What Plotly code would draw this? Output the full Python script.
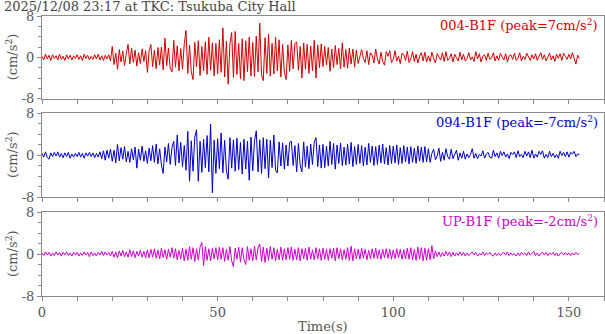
import plotly.graph_objects as go

DT = 0.5  # sample interval (s)

title_text = "2025/12/08 23:17 at TKC: Tsukuba City Hall"
names = ["004-B1F", "094-B1F", "UP-B1F"]
peaks = ["7", "-7", "-2"]
colors = ["#d40000", "#0000cc", "#cc00cc"]
x_ticks = [0, 50, 100, 150]
y_ticks = [-8, 0, 8]

acc_004 = [
    0.2,-0.5,0.6,-0.3,0.4,-0.6,0.5,-0.2,0.3,-0.5,0.6,-0.4,0.2,-0.6,0.5,-0.3,0.4,-0.5,0.3,-0.2,
    0.5,-0.4,0.3,-0.6,0.6,-0.2,0.4,-0.5,0.2,-0.4,0.5,-0.3,0.6,-0.5,0.3,-0.6,0.4,-0.3,0.5,-0.7,
    2.1,-1.4,0.8,-2.3,1.5,-0.9,1.2,-1.6,0.7,2.5,-1.3,1.8,-1.0,1.4,-1.7,0.9,-1.2,1.6,-0.8,1.3,
    -2.9,1.2,2.5,-1.8,1.4,-2.2,1.9,-1.5,2.0,-2.4,3.7,-1.6,1.8,-2.1,-2.8,3.3,-1.9,2.2,-2.6,1.7,
    -2.3,2.6,5.2,-3.1,2.4,-2.8,-4.3,2.9,-1.8,3.2,-3.5,2.1,-2.6,3.0,-3.3,3.9,-2.5,2.8,-3.6,2.7,
    -3.2,3.4,-2.9,5.7,-3.8,3.1,-5.2,2.6,4.8,-3.9,5.0,-3.3,2.7,-4.1,3.6,-4.5,3.2,-2.8,3.9,-3.6,
    2.9,-3.7,4.1,-2.8,6.6,-3.4,-4.5,3.8,-3.1,4.5,-3.6,2.7,-3.2,3.9,-2.6,3.4,-3.8,2.5,-2.9,-4.3,
    2.4,-2.7,3.3,-2.2,2.6,3.0,-2.5,2.1,-4.0,2.8,-2.3,2.5,-3.1,2.2,-2.6,3.3,-4.0,2.4,-2.0,2.6,
    -1.8,2.1,-1.5,1.9,-2.7,1.6,-2.0,2.3,-1.4,1.7,-2.2,2.8,-1.9,1.5,-2.1,1.8,-1.3,1.6,-1.9,1.4,
    -1.2,0.3,1.5,-0.2,-1.0,1.3,-1.4,0.9,0.4,-1.1,1.6,-0.3,-1.3,1.0,-0.8,-1.5,1.1,0.2,1.3,-1.0,
    -0.4,1.3,-0.7,0.2,-1.2,0.8,0.5,-0.6,1.2,-1.0,-0.3,1.1,-0.8,0.6,-1.1,0.2,0.9,-0.7,1.0,-0.9,
    0.3,-0.8,1.0,-0.2,-1.1,0.7,0.2,-0.5,0.9,-0.8,1.1,-0.6,-0.2,0.7,-0.9,0.6,-0.1,-0.7,1.0,-0.5,
    0.6,-0.7,-0.2,0.9,-0.5,0.1,-0.8,1.1,-0.3,0.7,-0.9,0.2,0.5,-0.6,0.8,-0.4,-0.1,0.9,-0.7,0.3,
    -0.6,0.8,0.1,-0.5,0.7,-0.9,0.3,0.5,-0.4,0.8,-0.6,-0.2,0.9,-0.7,0.2,-0.4,0.8,-0.1,-0.6,0.5,
    -0.3,0.7,-0.6,0.2,0.9,-0.4,0.5,-0.7,0.1,0.8,-0.5,0.3,-0.8,0.6,-0.2,0.7,-0.6,0.8,0.2,-0.4,
    0.6,-0.3,0.9,-0.2,-1.3,0.4,-0.2,
]

acc_094 = [
    0.3,-0.4,0.6,-0.5,-0.8,0.4,-0.3,0.5,-0.2,0.6,-0.4,0.3,-0.5,0.4,-0.3,0.5,-0.6,0.2,-0.4,0.3,
    -0.3,0.5,-0.4,0.3,-0.6,0.4,-0.2,0.5,-0.3,0.4,-0.5,0.3,-0.4,0.6,-0.7,0.8,-1.0,0.9,-0.6,1.1,
    -1.2,0.9,-1.5,2.0,-1.1,1.4,-0.8,1.6,-1.3,0.7,-1.4,1.2,-0.9,1.5,-2.5,1.1,-1.0,1.7,-1.2,0.8,
    -1.6,1.3,-1.1,1.8,-1.4,2.1,-1.7,1.2,-1.9,-3.5,1.5,-1.3,2.2,-1.8,1.4,2.6,-2.0,3.8,-1.5,2.4,
    -2.2,1.8,-2.9,4.5,-5.0,2.7,-3.1,3.4,4.8,-5.0,2.6,-3.3,3.0,-2.4,3.7,-3.2,5.9,-7.2,2.8,-3.5,
    3.1,-2.6,4.2,-3.4,2.8,-3.0,-4.6,3.3,-2.5,2.9,-3.1,3.2,-2.8,2.4,-3.6,3.0,-2.7,2.6,-4.8,3.4,
    -3.0,2.7,4.6,-3.2,2.9,-3.5,3.3,-2.6,3.0,-4.4,2.8,-2.4,3.8,-2.9,-3.4,2.5,-2.1,2.3,-2.7,1.9,
    -2.1,2.4,2.6,-2.0,1.8,-3.2,2.2,-1.9,-3.2,2.5,-2.3,1.7,-2.6,2.1,-1.8,2.4,3.3,-2.2,1.9,-2.5,
    2.0,-2.4,1.7,-2.1,2.6,-1.8,2.2,-2.7,1.9,-1.6,2.3,-2.0,1.5,-1.9,2.1,-1.7,2.4,-2.2,1.6,-1.8,
    2.0,-1.6,1.8,-2.1,1.5,-1.9,2.2,-1.4,1.7,-2.0,1.6,-1.8,1.9,-1.5,2.1,-1.7,1.4,-1.9,1.8,-1.6,
    1.7,-1.5,1.9,-1.8,1.4,-1.6,1.8,-1.3,1.5,-1.7,1.6,-1.4,1.3,-1.6,1.7,-1.2,1.5,-1.4,1.6,-1.3,
    1.2,-1.4,0.3,1.1,-0.9,-0.2,1.3,-1.2,0.5,-1.0,1.2,-0.3,-0.8,1.1,-0.7,0.2,0.9,-1.0,0.4,-0.6,
    0.7,-0.8,0.2,-0.5,0.1,1.2,-0.6,0.3,-0.7,0.1,-0.2,0.8,-0.6,0.2,0.5,-0.4,-0.6,0.9,-0.3,0.4,
    -0.6,0.7,-0.1,0.6,-0.4,0.2,-0.7,0.5,0.1,0.6,-0.5,0.8,-0.3,0.1,-0.5,0.7,-0.2,0.6,-0.5,0.9,
    -0.6,0.2,-0.4,0.7,0.1,0.8,-0.6,0.1,-0.5,0.7,-0.3,0.3,-0.5,0.1,-0.6,0.7,-0.1,0.5,-0.3,0.6,
    -0.4,0.5,0.2,0.7,-0.3,0.2,0.1,
]

acc_up = [
    0.2,-0.3,0.4,-0.2,0.3,-0.4,0.2,-0.3,0.4,-0.2,0.3,-0.4,0.3,-0.2,0.4,-0.3,0.2,-0.4,0.3,-0.2,
    0.3,-0.4,0.2,-0.3,0.4,-0.2,0.3,-0.5,0.4,-0.3,0.2,-0.4,0.3,-0.2,0.5,-0.3,0.4,-0.2,0.3,-0.4,
    0.5,-0.6,0.4,-0.7,0.6,-0.4,0.7,-0.5,0.4,-0.6,0.8,-0.5,0.6,-0.7,0.5,-0.4,0.7,-0.6,0.5,-0.7,
    0.8,-0.7,0.9,-0.6,1.0,-0.8,0.7,-0.9,1.1,-0.7,0.8,-1.0,0.9,-0.6,1.2,-0.8,1.0,-1.1,0.7,-0.9,
    1.1,-1.3,0.9,-1.2,1.4,-1.0,1.2,-1.4,1.0,-1.1,1.3,2.2,-2.2,1.4,-1.2,1.0,-1.3,1.1,-0.9,1.2,
    -1.1,1.3,-1.0,1.2,-1.4,0.9,-1.2,1.4,-1.3,-2.4,1.1,-1.0,1.3,-1.5,1.2,-1.1,-2.0,1.4,-1.2,1.0,
    -1.3,1.5,-1.1,1.2,1.9,-1.4,1.3,-1.6,1.1,-1.2,1.4,-1.0,1.2,-1.3,0.9,-1.1,1.3,-1.2,1.0,-1.1,
    1.2,-1.0,1.3,-1.2,0.9,-1.1,1.2,-1.3,1.0,-0.9,1.1,-1.2,1.3,-1.0,0.8,-1.1,1.2,-0.9,1.0,-1.2,
    1.1,-1.0,0.9,-1.2,1.0,-0.8,1.1,-1.3,1.2,-0.9,1.0,-1.1,0.8,-1.0,1.2,-1.2,1.5,-1.3,1.0,-0.9,
    0.9,-1.0,1.1,-0.8,0.9,-1.1,0.7,-0.9,1.0,-0.8,1.1,-0.9,0.8,-1.0,0.9,-0.7,1.0,-0.8,0.9,-1.0,
    0.8,-0.9,1.0,-0.7,0.9,-1.0,0.8,-0.9,1.1,-1.0,1.2,-1.1,0.9,-1.2,1.3,-1.0,1.2,-1.3,1.1,-1.2,
    1.0,-1.1,1.6,-0.9,0.6,-0.5,0.4,-0.5,0.3,-0.4,0.5,-0.3,0.4,-0.5,0.3,-0.4,0.2,-0.3,0.4,-0.3,
    0.3,-0.4,0.2,-0.3,0.1,0.4,-0.2,0.3,-0.4,0.1,-0.2,0.4,-0.3,0.2,-0.1,0.3,-0.2,-0.4,0.2,-0.3,
    0.2,-0.3,0.1,0.3,-0.2,0.4,-0.3,0.2,-0.2,0.1,-0.4,0.2,-0.3,0.3,-0.1,0.2,-0.3,0.4,-0.2,0.1,
    0.5,-0.3,0.2,-0.4,0.1,0.3,-0.2,0.3,-0.3,0.2,-0.1,0.3,-0.3,0.2,-0.4,0.1,0.3,-0.2,0.3,-0.2,
    0.2,-0.3,0.2,-0.2,0.3,-0.1,0.1,
]

series = [acc_004, acc_094, acc_up]

FONT = "DejaVu Serif, Liberation Serif, serif"
FS = 13
AXC = "#8a8a8a"
TXT = "#555555"

W, H = 605, 334
L, R, T, B = 42, 1, 16, 38
ph = H - T - B
# panel pixel extents (top, bottom)
panels_px = [(16, 98.7), (113, 197), (212, 296)]

def py(p):
    return (H - B - p) / ph

fig = go.Figure()
layout = dict(
    width=W, height=H,
    margin=dict(l=L, r=R, t=T, b=B),
    paper_bgcolor="white", plot_bgcolor="white",
    showlegend=False,
    font=dict(family=FONT, size=FS, color=TXT),
)
annotations = []
for i, (vals, col) in enumerate(zip(series, colors)):
    k = "" if i == 0 else str(i + 1)
    t = [DT * j for j in range(len(vals))]
    fig.add_trace(go.Scatter(x=t, y=vals, mode="lines",
                             line=dict(color=col, width=1),
                             xaxis="x" + k, yaxis="y" + k, hoverinfo="skip"))
    top, bot = panels_px[i]
    layout["xaxis" + k] = dict(
        domain=[0, 1], range=[0, 160], anchor="y" + k,
        tickvals=x_ticks, ticktext=[str(v) for v in x_ticks],
        showticklabels=(i == 2), ticks="outside", ticklen=4, tickcolor=AXC,
        minor=dict(dtick=10, tick0=0, ticks="outside", ticklen=4, tickcolor=AXC),
        showline=True, linecolor=AXC, linewidth=1, mirror=True,
        showgrid=False, zeroline=False,
        tickfont=dict(family=FONT, size=FS, color=TXT),
    )
    layout["yaxis" + k] = dict(
        domain=[py(bot), py(top)], range=[-8, 8], anchor="x" + k,
        tickvals=y_ticks, ticktext=[str(v) for v in y_ticks],
        ticks="outside", ticklen=4, tickcolor=AXC,
        minor=dict(dtick=2, tick0=0, ticks="outside", ticklen=3, tickcolor=AXC),
        showline=True, linecolor=AXC, linewidth=1, mirror=True,
        showgrid=False, zeroline=False,
        tickfont=dict(family=FONT, size=FS, color=TXT),
    )
    if i > 0:
        layout["xaxis" + k]["matches"] = "x"
    # station label
    annotations.append(dict(
        text=f"{names[i]} (peak={peaks[i]}cm/s<sup>2</sup>)",
        xref="paper", yref="paper", x=(600 - L) / (W - L - R), y=py(top + 9),
        xanchor="right", yanchor="middle", showarrow=False,
        font=dict(family=FONT, size=FS, color=col),
    ))
    # y-axis unit label
    annotations.append(dict(
        text="(cm/s<sup>2</sup>)", textangle=-90,
        xref="paper", yref="paper", x=(12 - L) / (W - L - R), y=py((top + bot) / 2),
        xanchor="center", yanchor="middle", showarrow=False,
        font=dict(family=FONT, size=FS, color=TXT),
    ))

annotations.append(dict(
    text=title_text, xref="paper", yref="paper",
    x=(2 - L) / (W - L - R), y=py(6.5), xanchor="left", yanchor="middle",
    showarrow=False, font=dict(family=FONT, size=FS, color="#444444"),
))
annotations.append(dict(
    text="Time(s)", xref="paper", yref="paper",
    x=0.5, y=py(326), xanchor="center", yanchor="middle",
    showarrow=False, font=dict(family=FONT, size=FS, color=TXT),
))
layout["annotations"] = annotations
fig.update_layout(**layout)
fig.write_html("out.html", config={"displayModeBar": False},
               post_script="document.body.style.margin='0px';")
